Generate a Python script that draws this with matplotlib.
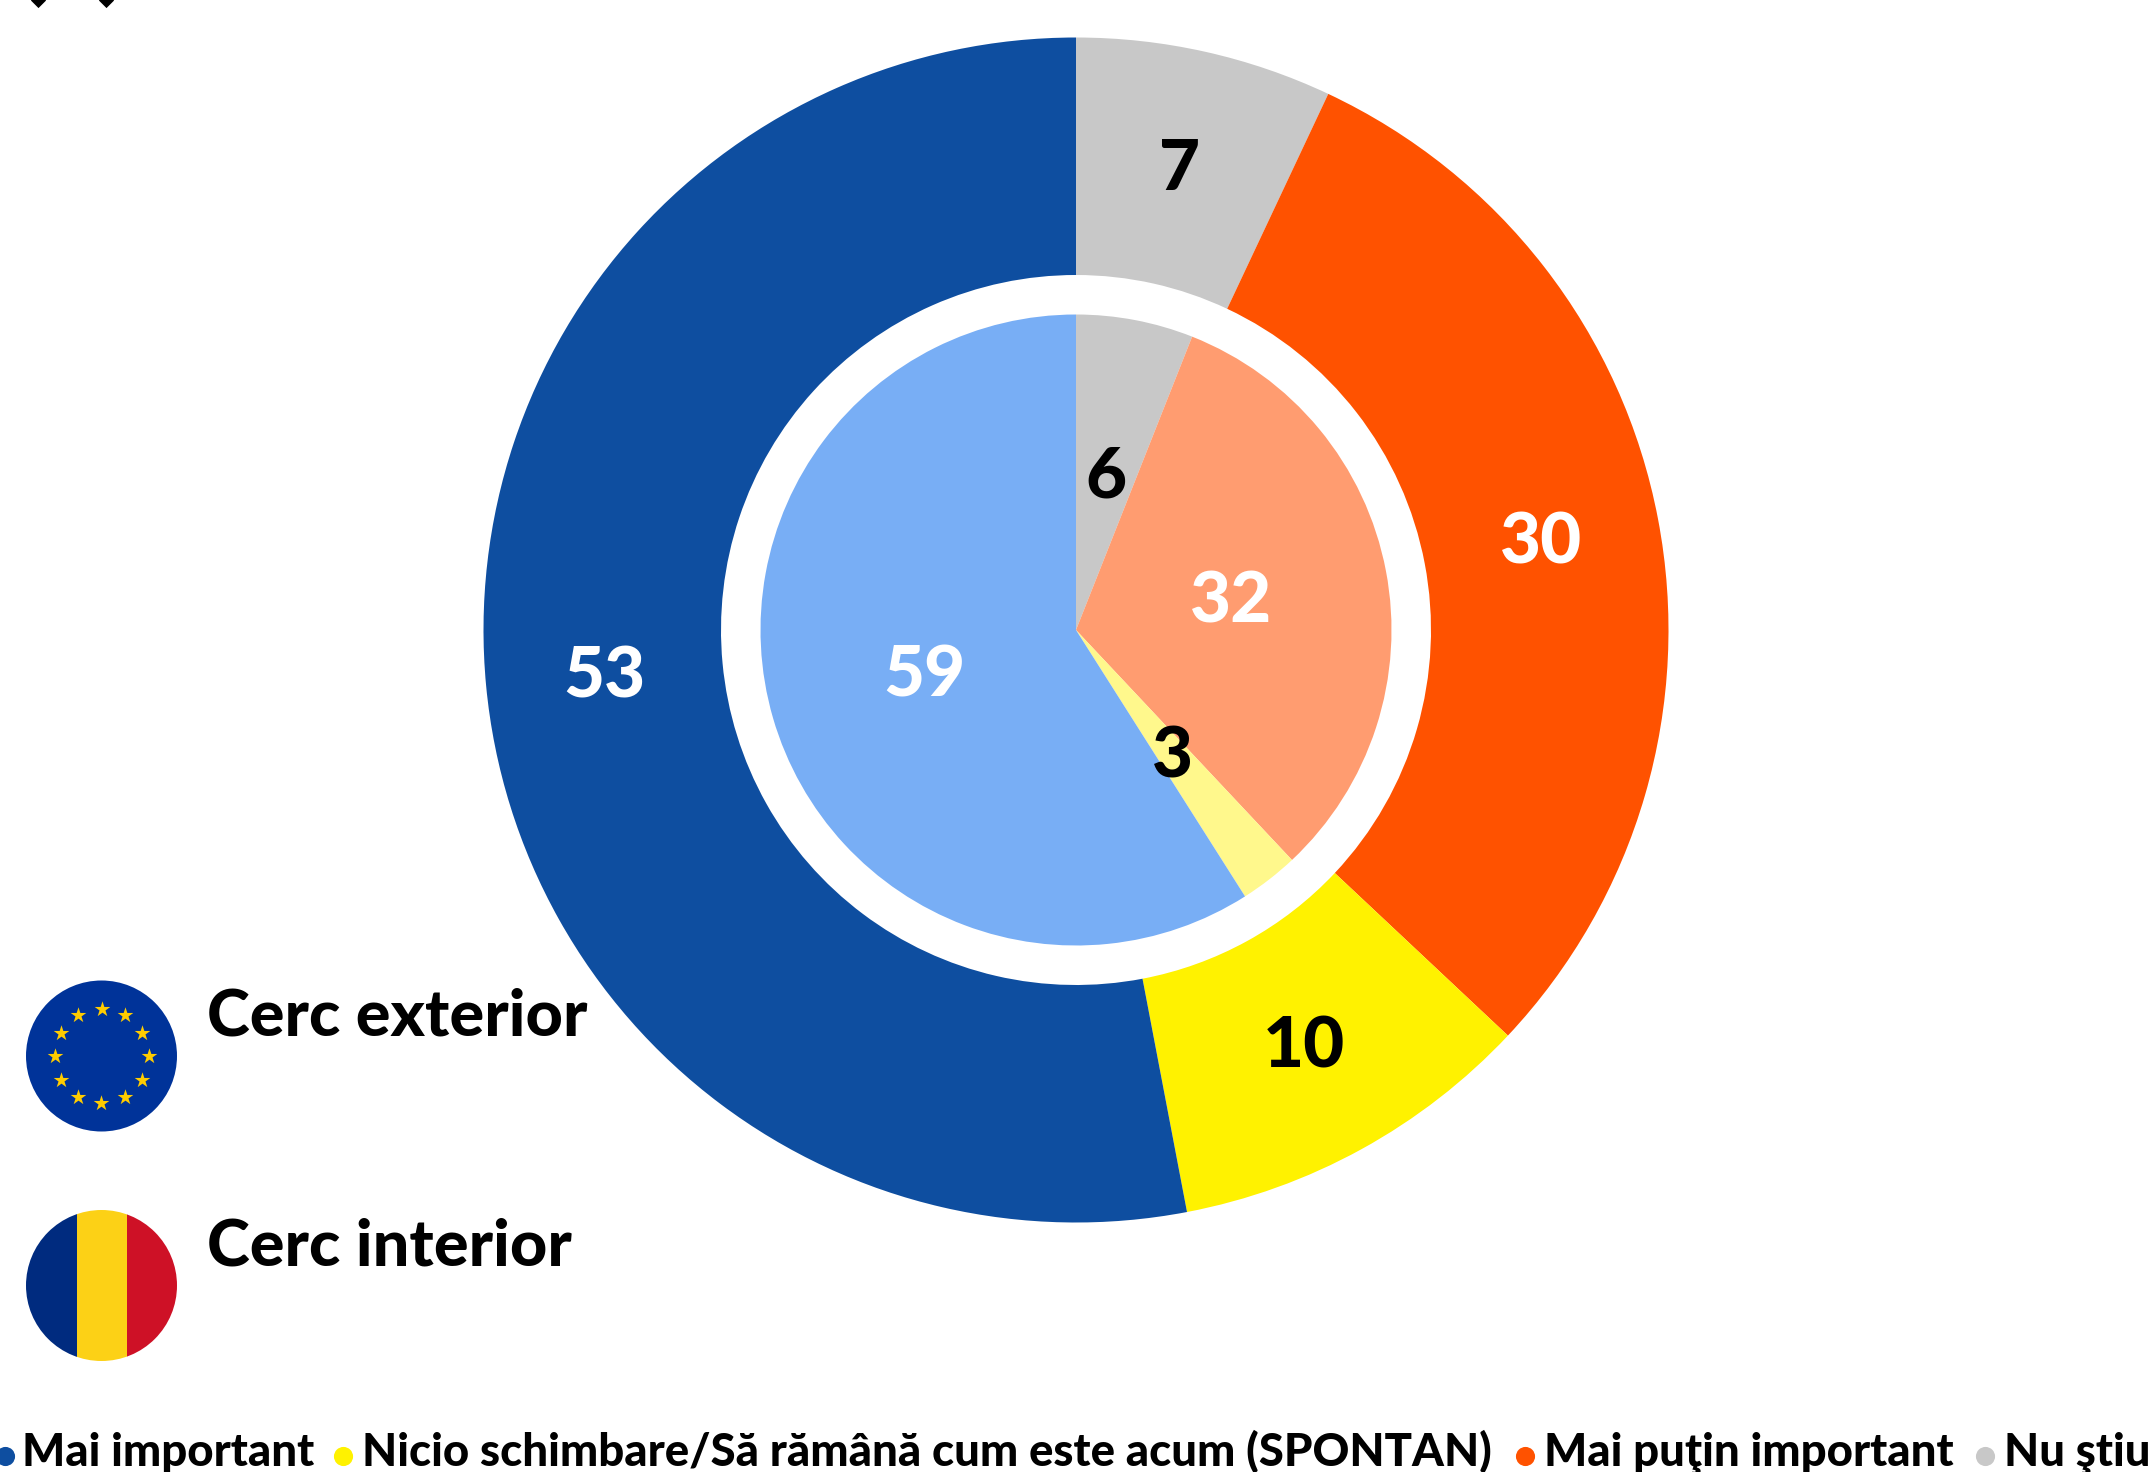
import numpy as np
import matplotlib
matplotlib.use("Agg")
import matplotlib.pyplot as plt
from matplotlib.patches import Circle, Rectangle

outer_values = [7, 30, 10, 53]
inner_values = [6, 32, 3, 59]
outer_colors = ["#C8C8C8", "#FF5200", "#FFF200", "#0E4EA0"]
inner_colors = ["#C8C8C8", "#FF9C70", "#FFF88C", "#78AEF5"]
outer_text = ["black", "white", "black", "white"]
inner_text = ["black", "white", "black", "white"]
legend_labels = ["Mai important", "Nicio schimbare/Să rămână cum este acum (SPONTAN)",
                 "Mai puţin important", "Nu ştiu"]
legend_colors = ["#0E4EA0", "#FFF200", "#FF5200", "#C8C8C8"]
legend_dots = [5, 343, 1525, 1985]
legend_text_x = [22, 362, 1544, 2004]

W, H = 2153, 1472
FONT = "Lato"

fig = plt.figure(figsize=(W / 100, H / 100), dpi=100)
ax = fig.add_axes([0, 0, 1, 1])
cx, cy = 1076, H - 630


def ring(values, colors, text_colors, radius, width, label_r):
    wedges, _ = ax.pie(values, colors=colors, radius=radius, center=(cx, cy),
                       startangle=90, counterclock=False, frame=False,
                       wedgeprops=dict(width=width, linewidth=0))
    for w, v, c in zip(wedges, values, text_colors):
        a = np.deg2rad((w.theta1 + w.theta2) / 2)
        # +4: the digits sit a little above the middle of the slice
        ax.text(cx + label_r * np.cos(a), cy + label_r * np.sin(a) + 4, str(v), color=c,
                ha="center", va="center_baseline", fontsize=51, family=FONT, weight="black")


ring(outer_values, outer_colors, outer_text, 592.5, 237.5, 474)
ring(inner_values, inner_colors, inner_text, 315.5, 315.5, 158)

ax.set_xlim(0, W)
ax.set_ylim(0, H)
ax.set_aspect("equal")
ax.axis("off")

# EU flag
eu_x, eu_y, flag_r = 101.5, H - 1056, 75.5
ax.add_patch(Circle((eu_x, eu_y), flag_r, color="#003399", lw=0))
star_a = np.deg2rad(np.arange(0, 360, 30))
ax.scatter(eu_x + 47 * np.cos(star_a), eu_y + 47 * np.sin(star_a), marker="*", s=140,
           color="#FFCC00", linewidths=0, zorder=3)

# Romanian flag
ro_y = H - 1285.5
clip = Circle((eu_x, ro_y), flag_r, transform=ax.transData)
for x0, col in zip([eu_x - flag_r, eu_x - 25, eu_x + 25], ["#002B7F", "#FCD116", "#CE1126"]):
    w = 50 if col == "#FCD116" else flag_r - 25
    r = Rectangle((x0, ro_y - flag_r), w, 2 * flag_r, color=col, lw=0)
    ax.add_patch(r)
    r.set_clip_path(clip)

ax.text(207, H - 1036, "Cerc exterior", fontsize=46.6, family=FONT, weight="black", va="baseline")
ax.text(207, H - 1266, "Cerc interior", fontsize=46.6, family=FONT, weight="black", va="baseline")

# legend along the bottom
for lab, col, dx, tx in zip(legend_labels, legend_colors, legend_dots, legend_text_x):
    ax.scatter([dx], [H - 1456], s=190, color=col, linewidths=0, clip_on=True)
    ax.text(tx, H - 1466, lab, fontsize=32.8, family=FONT, weight="black", va="baseline")

# bits of cut off text at the top edge
ax.scatter([38, 106], [H, H], marker="D", s=60, color="black", linewidths=0)

fig.savefig("out.png", dpi=100)
